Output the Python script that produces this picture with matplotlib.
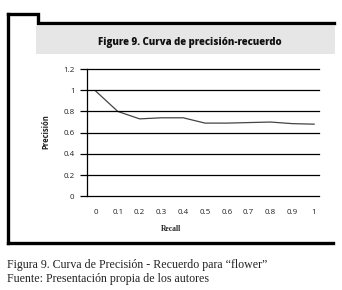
import matplotlib
matplotlib.use("Agg")
import matplotlib.pyplot as plt
from matplotlib.lines import Line2D
from matplotlib.patches import Rectangle

recall = [0, 0.1, 0.2, 0.3, 0.4, 0.5, 0.6, 0.7, 0.8, 0.9, 1]
precision = [0.99, 0.80, 0.73, 0.74, 0.74, 0.69, 0.69, 0.695, 0.70, 0.685, 0.68]
xtick_labels = ["0", "0.1", "0.2", "0.3", "0.4", "0.5", "0.6", "0.7", "0.8", "0.9", "1"]
yticks = [0, 0.2, 0.4, 0.6, 0.8, 1, 1.2]
ytick_labels = ["0", "0.2", "0.4", "0.6", "0.8", "1", "1.2"]

W, H = 342, 290
fig = plt.figure(figsize=(W / 100, H / 100), dpi=100)
fig.patch.set_facecolor("white")

def fx(x):
    return x / W

def fy(y):
    return 1 - y / H

# frame and title band
fig.add_artist(Rectangle((fx(36), fy(54)), fx(335) - fx(36), fy(26) - fy(54),
                         transform=fig.transFigure, facecolor="#e6e6e6", edgecolor="none"))
fig.add_artist(Line2D([fx(7.7), fx(7.7)], [fy(14.3), fy(242.5)], transform=fig.transFigure,
                      color="black", lw=2.4, solid_capstyle="projecting"))
fig.add_artist(Line2D([fx(7.7), fx(38.3), fx(38.3), fx(334)], [fy(14.3), fy(14.3), fy(22.6), fy(22.6)],
                      transform=fig.transFigure, color="black", lw=2.4, solid_joinstyle="miter"))
fig.add_artist(Line2D([fx(7.7), fx(333)], [fy(242.5), fy(242.5)], transform=fig.transFigure,
                      color="black", lw=2.4))

fig.text(fx(190), fy(43), "Figure 9. Curva de precisión-recuerdo", ha="center", va="center",
         fontsize=6.9, fontweight="heavy", family="Open Sans", color="#111111")

ax = fig.add_axes([fx(87), fy(196.3), fx(318.5) - fx(87), fy(69) - fy(196.3)])
ax.plot(recall, precision, color="#444444", lw=0.9)
ax.set_xlim(-0.041, 1.02)
ax.set_ylim(0, 1.2)
ax.set_yticks(yticks)
ax.set_yticklabels(ytick_labels)
ax.set_xticks(recall)
ax.set_xticklabels(xtick_labels)
for s in ["top", "right", "bottom"]:
    ax.spines[s].set_visible(False)
ax.spines["left"].set_linewidth(0.9)
ax.yaxis.grid(True, color="black", lw=0.9)
ax.set_axisbelow(False)
ax.tick_params(axis="y", length=5, width=0.9, pad=4, labelsize=5.8)
ax.tick_params(axis="x", length=0, pad=9.5, labelsize=5.8)
for lab in ax.get_xticklabels() + ax.get_yticklabels():
    lab.set_family("Open Sans")
    lab.set_color("#222222")
for gl in ax.get_ygridlines():
    gl.set_clip_on(False)

fig.text(fx(46), fy(132), "Precisión", rotation=90, ha="center", va="center",
         fontsize=5.5, fontweight="bold", family="Open Sans", color="#222222")
fig.text(fx(171), fy(229), "Recall", ha="center", va="center",
         fontsize=5.5, fontweight="bold", family="Liberation Serif", color="#222222")

fig.text(fx(7), fy(265), "Figura 9. Curva de Precisión - Recuerdo para \u201cflower\u201d",
         ha="left", va="center", fontsize=8.6, family="Liberation Serif", color="#222222")
fig.text(fx(7), fy(279), "Fuente: Presentación propia de los autores",
         ha="left", va="center", fontsize=8.6, family="Liberation Serif", color="#222222")

fig.savefig("out.png", dpi=100)
